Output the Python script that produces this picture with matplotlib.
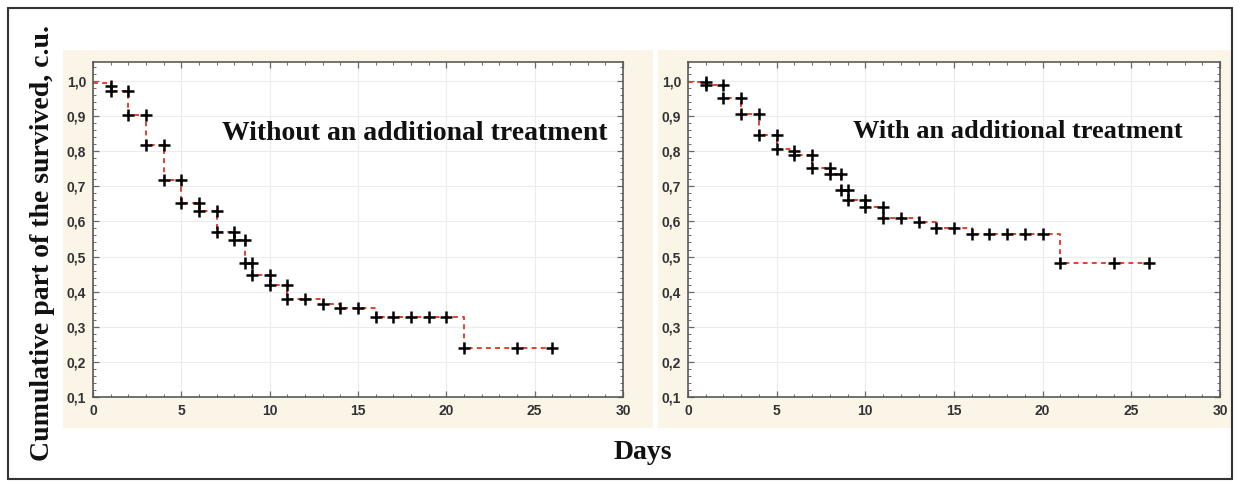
from __future__ import annotations

import matplotlib

matplotlib.use("Agg")
import matplotlib.pyplot as plt
from matplotlib.patches import Rectangle
from matplotlib.ticker import FuncFormatter, MultipleLocator

# step curve: time of each change and the level that follows it
STEP_TIMES = [0, 1, 2, 3, 4, 5, 6, 7, 8, 8.6, 9, 10, 11, 13, 14, 16, 21, 26]
LEFT_LEVELS = [0.993, 0.972, 0.903, 0.818, 0.718, 0.652, 0.630, 0.571, 0.547,
               0.483, 0.447, 0.419, 0.378, 0.364, 0.353, 0.329, 0.240, 0.240]
RIGHT_LEVELS = [0.998, 0.988, 0.951, 0.906, 0.846, 0.805, 0.789, 0.751, 0.736,
                0.690, 0.661, 0.641, 0.609, 0.597, 0.582, 0.563, 0.481, 0.481]

# "+" marks
MARK_DAYS = [1, 1, 2, 2, 3, 3, 4, 4, 5, 5, 6, 6, 7, 7, 8, 8, 8.6, 8.6, 9, 9,
             10, 10, 11, 11, 12, 13, 14, 15, 16, 17, 18, 19, 20, 21, 24, 26]
LEFT_MARKS = [0.986, 0.972, 0.972, 0.903, 0.903, 0.818, 0.818, 0.718, 0.718, 0.652,
              0.652, 0.630, 0.630, 0.571, 0.571, 0.547, 0.547, 0.483, 0.483, 0.447,
              0.447, 0.419, 0.419, 0.378, 0.378, 0.364, 0.353, 0.353, 0.329, 0.329,
              0.329, 0.329, 0.329, 0.240, 0.240, 0.240]
RIGHT_MARKS = [0.996, 0.988, 0.988, 0.951, 0.951, 0.906, 0.906, 0.846, 0.846, 0.805,
               0.800, 0.789, 0.789, 0.751, 0.751, 0.736, 0.736, 0.690, 0.690, 0.661,
               0.661, 0.641, 0.641, 0.609, 0.609, 0.597, 0.582, 0.582, 0.563, 0.563,
               0.563, 0.563, 0.563, 0.481, 0.481, 0.481]

TITLES = ["Without an additional treatment", "With an additional treatment"]
TITLE_POS = [(7.3, 0.832), (9.3, 0.838)]
TITLE_SIZES = [20, 19]
Y_LABEL = "Cumulative part of the survived, c.u."
X_LABEL = "Days"

SERIF = ["Liberation Serif", "DejaVu Serif"]
SANS = ["Liberation Sans", "DejaVu Sans"]
CREAM = "#fbf5e8"


def comma(value, _pos):
    return f"{value:.1f}".replace(".", ",")


def style_axes(ax) -> None:
    ax.set_xlim(0, 30)
    ax.set_ylim(0.1, 1.054)
    ax.xaxis.set_major_locator(MultipleLocator(5))
    ax.xaxis.set_minor_locator(MultipleLocator(1))
    ax.yaxis.set_major_locator(MultipleLocator(0.1))
    ax.yaxis.set_minor_locator(MultipleLocator(0.02))
    ax.yaxis.set_major_formatter(FuncFormatter(comma))
    ax.grid(True, which="major", color="#ececec", lw=0.8)
    ax.set_axisbelow(True)
    ax.tick_params(which="both", direction="in", top=True, right=True,
                   color="#6a6a6a", labelcolor="#333333")
    ax.tick_params(which="major", length=4, width=0.9, pad=5)
    ax.tick_params(which="minor", length=2, width=0.7)
    for label in ax.get_xticklabels() + ax.get_yticklabels():
        label.set_fontfamily(SANS)
        label.set_fontweight("bold")
        label.set_fontsize(10)
    for spine in ax.spines.values():
        spine.set_color("#5a5a5a")
        spine.set_linewidth(1.2)


def draw_panel(ax, levels, marks, title, pos, size) -> None:
    style_axes(ax)
    ax.step(STEP_TIMES, levels, where="post", color="#e5412f", lw=1.4,
            ls=(0, (2.5, 2.2)), zorder=2)
    ax.plot(MARK_DAYS, marks, ls="none", marker="+", ms=8, mew=1.8,
            color="black", zorder=3)
    ax.text(pos[0], pos[1], title, family=SERIF, fontweight="bold",
            fontsize=size, va="baseline", ha="left", color="#111111")


def main() -> None:
    fig = plt.figure(figsize=(12.4, 4.86), dpi=100)
    W, H = 1240, 486

    def box(x0, y0, x1, y1, **kw):
        fig.patches.append(Rectangle((x0 / W, 1 - y1 / H), (x1 - x0) / W,
                                     (y1 - y0) / H, transform=fig.transFigure, **kw))

    box(63, 50, 653, 428, facecolor=CREAM, edgecolor="none", zorder=-2)
    box(658, 50, 1231, 428, facecolor=CREAM, edgecolor="none", zorder=-2)
    box(8, 8, 1232, 479, fill=False, edgecolor="#333333", lw=1.5, zorder=5)

    ax_left = fig.add_axes([93 / W, 1 - 397 / H, 530 / W, 335 / H])
    ax_right = fig.add_axes([688 / W, 1 - 397 / H, 532 / W, 335 / H])
    draw_panel(ax_left, LEFT_LEVELS, LEFT_MARKS, TITLES[0], TITLE_POS[0], TITLE_SIZES[0])
    draw_panel(ax_right, RIGHT_LEVELS, RIGHT_MARKS, TITLES[1], TITLE_POS[1], TITLE_SIZES[1])

    fig.text(43 / W, 0.5, Y_LABEL, rotation=90, ha="center", va="center",
             family=SERIF, fontweight="bold", fontsize=20, color="#111111")
    fig.text(643 / W, 1 - 452 / H, X_LABEL, ha="center", va="center",
             family=SERIF, fontweight="bold", fontsize=20, color="#111111")

    fig.savefig("out.png", dpi=100)
    plt.close(fig)


if __name__ == "__main__":
    main()
